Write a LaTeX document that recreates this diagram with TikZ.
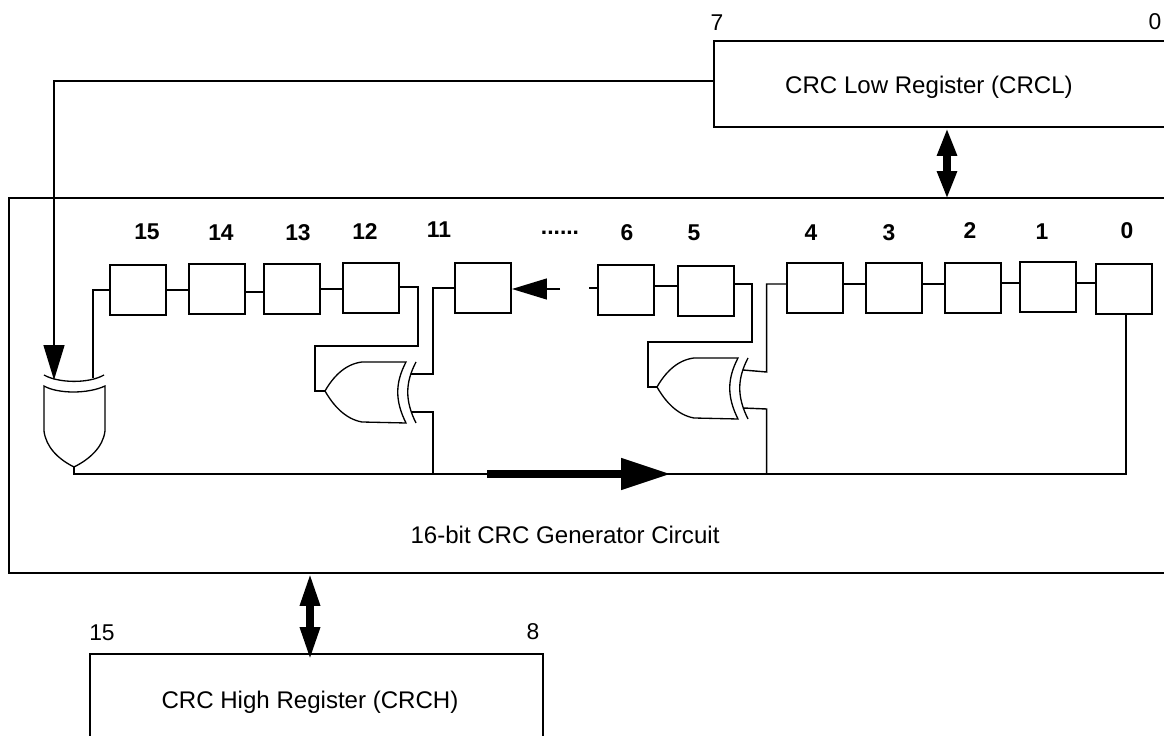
\documentclass[tikz,border=0pt]{standalone}
\usepackage{fontspec}
\setmainfont{Liberation Sans}
\usetikzlibrary{arrows.meta, positioning, calc}
\tikzset{
  every picture/.style={line width=0.8pt},
  regbox/.style={draw, line width=1.1pt, inner sep=0pt, outer sep=0pt, anchor=north west},
  bitbox/.style={regbox, minimum width=1.12cm, minimum height=1cm},
  wire/.style={draw, line width=0.8pt},
  gate/.style={draw, line width=0.75pt},
  plain/.style={font=\fontsize{13.7}{15}\selectfont, inner sep=0pt},
  endnum/.style={font=\fontsize{13}{15}\selectfont, inner sep=0pt},
  bitnum/.style={font=\fontsize{13}{15}\selectfont\bfseries, inner sep=0pt},
  feedarrow/.style={wire, -{Triangle[length=0.7cm, width=0.42cm]}},
  busarrow/.style={line width=0.15cm, {Triangle[length=0.56cm, width=0.37cm]}-{Triangle[length=0.56cm, width=0.37cm]}},
  bigarrow/.style={line width=0.16cm, -{Triangle[length=1cm, width=0.6cm]}},
}

\begin{document}
\begin{tikzpicture}[x=0.02cm, y=-0.02cm]
  \clip (0,0) rectangle (1164,736);
  % registers and the circuit frame
  \node[regbox, minimum width=10cm, minimum height=1.72cm] (crcl) at (714,41) {};
  \node[regbox, minimum width=9.06cm, minimum height=3cm] (crch) at (90,654) {};
  \node[regbox, minimum width=24cm, minimum height=7.5cm] (frame) at (9,198) {};
  \node[plain] (crcltext) at (929,87) {CRC Low Register (CRCL)};
  \node[plain] (crchtext) at (310,702) {CRC High Register (CRCH)};
  \node[plain] (frametext) at (565,535) {16-bit CRC Generator Circuit};
  \node[endnum] (l7) at (717,23) {7};
  \node[endnum] (l0) at (1155,22) {0};
  \node[endnum] (h15) at (102,633) {15};
  \node[endnum] (h8) at (533,632) {8};
  % bit cells: name / left / top / label x / label y
  \foreach \n/\x/\y/\lx/\ly in {
      15/110/265/147/232, 14/189/264/221/233, 13/264/264/298/233, 12/343/263/365/232,
      11/455/263/439/230, 6/598/265/627/233, 5/678/266/694/233, 4/787/263/811/233,
      3/866/263/889/233, 2/945/263/970/231, 1/1020/262/1042/232, 0/1096/264/1127/231} {
    \node[bitbox] (r\n) at (\x,\y) {};
    \node[bitnum] (b\n) at (\lx,\ly) {\n};
  }
  \node[bitnum] (dots) at (560,233) {......};
  % links between neighbour cells
  \foreach \a/\b/\y in {r15/r14/290, r14/r13/292, r13/r12/289, r6/r5/286,
      r4/r3/284, r3/r2/284, r2/r1/283, r1/r0/283}
    \draw[wire] (\a.east |- 0,\y) -- (\b.west |- 0,\y);
  % side xor gates
  \foreach \g/\x/\y in {A/325/391, B/657/387} {
    \begin{scope}[shift={(\x,\y)}]
      \coordinate (apex\g) at (0,0);
      \coordinate (up\g) at (86,-17);
      \coordinate (low\g) at (86,21);
      \draw[gate] (0,0) .. controls (8,-14) and (20,-27) .. (37,-29) -- (81,-29)
        .. controls (70,-8) and (70,10) .. (81,32)
        -- (37,31) .. controls (20,28) and (8,14) .. (0,0);
      \draw[gate] (91,-29) .. controls (80,-8) and (80,10) .. (91,32);
    \end{scope}
  }
  % input xor gate
  \coordinate (topin) at (93,378);
  \coordinate (apexC) at (74,467);
  \draw[gate] (44,375) .. controls (58,383) and (88,384) .. (104,375);
  \draw[gate] (44,386) .. controls (58,394) and (88,394) .. (105,386) -- (105,431)
    .. controls (103,447) and (90,459) .. (74,467) .. controls (58,459) and (46,447) .. (44,431) -- cycle;
  % feedback wires
  \coordinate (bottomrail) at (74,474);
  \coordinate (tapA) at (418,287);
  \coordinate (backA) at (315,346);
  \coordinate (tapB) at (752,284);
  \coordinate (backB) at (648,342);
  \draw[wire] (r15.west |- 0,290) -- (93,290) -- (topin);
  \draw[wire] (r12.east |- tapA) -- (tapA) -- (tapA |- backA) -- (backA) -- (backA |- apexA) -- (apexA);
  \draw[wire] (r5.east |- tapB) -- (tapB) -- (tapB |- backB) -- (backB) -- (backB |- apexB) -- (apexB);
  \draw[wire] (upA) -- (433,374) -- (433,288) -- (r11.west |- 0,288);
  \draw[wire] (lowA) -- (433,412) -- (433,474);
  \draw[wire] (upB) -- (766.6,372) -- (766.6,284) -- (r4.west |- 0,284);
  \draw[wire] (lowB) -- (766.6,409) -- (766.6,474);
  \draw[wire] (apexC) -- (bottomrail) -- (1126,474) -- (r0.south -| 1126,0);
  % arrows
  \coordinate (heavystart) at (487,474);
  \coordinate (heavyend) at (671,474);
  \draw[bigarrow] (heavystart) -- (heavyend);
  \coordinate (stopleft) at (512,289);
  \draw[feedarrow] (560,289) -- (stopleft);
  \draw[wire] (589,288) -- (r6.west |- 0,288);
  \coordinate (crclout) at (54,380);
  \draw[feedarrow] (crcl.west |- 0,81) -- (54,81) -- (crclout);
  \coordinate (busA) at (947,128);
  \coordinate (busAend) at (947,199);
  \draw[busarrow] (busA) -- (busAend);
  \coordinate (busB) at (310,573);
  \coordinate (busBend) at (310,660);
  \draw[busarrow, {Triangle[length=0.66cm, width=0.37cm]}-{Triangle[length=0.66cm, width=0.37cm]}] (busB) -- (busBend);
\end{tikzpicture}
\end{document}
